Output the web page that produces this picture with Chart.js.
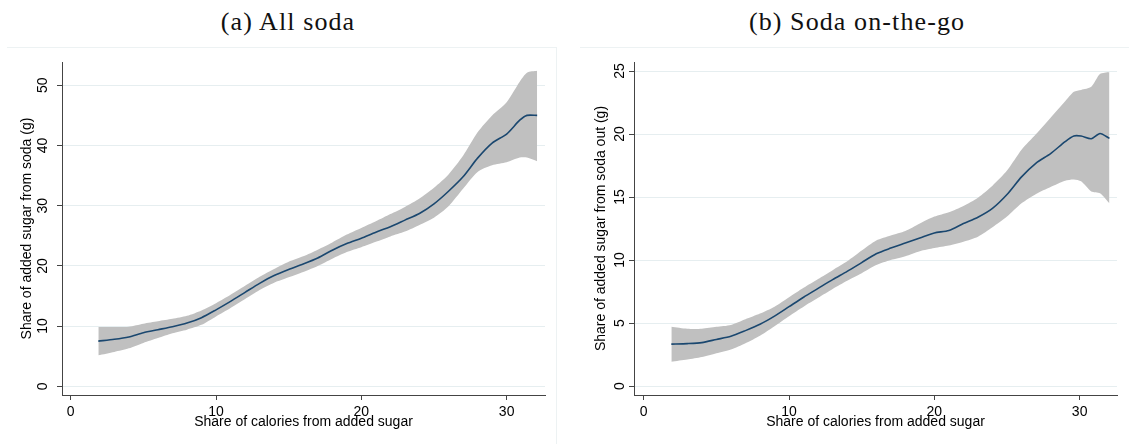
<!DOCTYPE html>
<html>
<head>
<meta charset="utf-8">
<script src="https://cdn.jsdelivr.net/npm/chart.js@4.4.1/dist/chart.umd.min.js"></script>
<style>
  body { margin: 0; background: #fff; }
  #page { position: relative; width: 1129px; height: 444px; overflow: hidden; background: #fff; }
  .panel-title { position: absolute; top: 7px; font-family: "Liberation Serif", serif; font-size: 26px;
                 letter-spacing: 1.1px; white-space: nowrap; color: #111; transform: translateX(-50%); }
  .frame { position: absolute; border-top: 1px solid #edf2f3; }
  canvas { position: absolute; top: 40px; }
</style>
</head>
<body>
<div id="page">
  <div class="frame" style="left:7px; top:47px; width:549px; height:400px; border-right:1px solid #edf2f3;"></div>
  <div class="frame" style="left:580px; top:47px; width:549px; height:400px;"></div>
  <div class="panel-title" style="left:288px;">(a) All soda</div>
  <div class="panel-title" style="left:857px;">(b) Soda on-the-go</div>
  <canvas id="chartA" width="560" height="404" style="left:0px; width:560px; height:404px;"></canvas>
  <canvas id="chartB" width="569" height="404" style="left:560px; width:569px; height:404px;"></canvas>
</div>
<script>
// share of calories from added sugar (x) and local fit with 95% band
const xsA  = [1.9, 3, 4, 5, 6, 7, 8, 9, 10, 11, 12, 13, 14, 15, 16, 17, 18, 19, 20, 21, 22, 23, 24, 25, 26, 27, 28, 29, 30, 30.9, 31.4, 32.1];
const fitA = [7.5, 7.8, 8.2, 8.9, 9.4, 9.9, 10.5, 11.4, 12.7, 14.1, 15.6, 17.1, 18.4, 19.4, 20.3, 21.3, 22.6, 23.7, 24.6, 25.6, 26.5, 27.6, 28.7, 30.3, 32.4, 34.8, 37.9, 40.4, 41.9, 44.2, 45.0, 45.0];
const hiA  = [9.85, 9.85, 9.9, 10.4, 10.8, 11.2, 11.7, 12.6, 13.8, 15.2, 16.7, 18.2, 19.5, 20.7, 21.6, 22.7, 23.9, 25.2, 26.3, 27.4, 28.6, 29.8, 31.2, 33.0, 35.2, 38.3, 42.2, 45.0, 47.2, 50.6, 52.1, 52.4];
const loA  = [5.15, 5.7, 6.3, 7.2, 8.0, 8.8, 9.4, 10.2, 11.6, 13.0, 14.5, 16.0, 17.2, 18.1, 19.0, 20.0, 21.2, 22.3, 23.1, 24.0, 24.9, 25.7, 26.8, 28.0, 29.9, 32.8, 35.6, 36.7, 37.2, 38.0, 38.0, 37.4];

const xsB  = [1.9, 3, 4, 5, 6, 7, 8, 9, 10, 11, 12, 13, 14, 15, 16, 17, 18, 19, 20, 21, 22, 23, 24, 25, 26, 27, 28, 29, 29.6, 30.1, 30.8, 31.4, 32.05];
const fitB = [3.33, 3.37, 3.45, 3.7, 3.95, 4.4, 4.9, 5.55, 6.3, 7.05, 7.75, 8.45, 9.1, 9.8, 10.5, 10.95, 11.35, 11.75, 12.15, 12.35, 12.9, 13.4, 14.1, 15.2, 16.6, 17.7, 18.45, 19.4, 19.85, 19.84, 19.63, 20.05, 19.66];
const hiB  = [4.71, 4.55, 4.55, 4.7, 4.85, 5.3, 5.75, 6.3, 7.05, 7.8, 8.5, 9.2, 9.9, 10.75, 11.55, 11.95, 12.3, 12.9, 13.45, 13.8, 14.3, 14.95, 15.9, 17.1, 18.75, 20.0, 21.3, 22.6, 23.35, 23.5, 23.75, 24.76, 24.92];
const loB  = [1.93, 2.1, 2.3, 2.6, 2.9, 3.4, 4.0, 4.75, 5.55, 6.3, 7.0, 7.7, 8.35, 8.95, 9.6, 10.0, 10.3, 10.7, 10.95, 11.15, 11.45, 11.85, 12.6, 13.45, 14.5, 15.25, 15.8, 16.3, 16.4, 16.25, 15.45, 15.3, 14.5];

const xTicks  = [0, 10, 20, 30];
const yTicksA = [0, 10, 20, 30, 40, 50];
const yTicksB = [0, 5, 10, 15, 20, 25];

const xTitle  = "Share of calories from added sugar";
const yTitleA = "Share of added sugar from soda (g)";
const yTitleB = "Share of added sugar from soda out (g)";

const NAVY = "#1a476f";
const BAND = "#c0c0c0";
const GRID = "#e6eef0";
const AXIS = "#444";
const FONT = "'Liberation Sans', Arial, sans-serif";
const TEXT = "#000";

const pts = (xs, ys) => xs.map((x, i) => ({ x: x, y: ys[i] }));

function drawPanel(id, xs, fit, lo, hi, yTicks, yMin, yMax, xMin, xMax, yTitle, g) {
  new Chart(document.getElementById(id), {
    type: "line",
    data: {
      datasets: [
        { data: pts(xs, fit), borderColor: NAVY, borderWidth: 1.6, pointRadius: 0, fill: false, tension: 0.25 },
        { data: pts(xs, hi), borderWidth: 0, pointRadius: 0, backgroundColor: BAND, fill: "+1", tension: 0.25 },
        { data: pts(xs, lo), borderWidth: 0, pointRadius: 0, fill: false, tension: 0.25 }
      ]
    },
    options: {
      responsive: false,
      animation: false,
      layout: { padding: { left: g.padLeft, right: g.padRight, top: 22, bottom: 4 } },
      plugins: { legend: { display: false }, tooltip: { enabled: false } },
      scales: {
        x: {
          type: "linear",
          min: xMin, max: xMax,
          afterBuildTicks: s => { s.ticks = xTicks.map(v => ({ value: v })); },
          afterFit: s => { s.height = 45; },
          grid: { drawOnChartArea: false, tickLength: 5, tickColor: AXIS },
          border: { color: AXIS, width: 1 },
          ticks: { color: TEXT, font: { family: FONT, size: 14 }, padding: 4, maxRotation: 0 },
          title: { display: true, text: xTitle, color: TEXT, font: { family: FONT, size: 14 },
                   padding: { top: 0, bottom: 9 } }
        },
        y: {
          type: "linear",
          min: yMin, max: yMax,
          afterBuildTicks: s => { s.ticks = yTicks.map(v => ({ value: v })); },
          afterFit: s => { s.width = g.yWidth; },
          grid: { color: GRID, lineWidth: 1, tickLength: 5, tickColor: AXIS },
          border: { color: AXIS, width: 1 },
          ticks: { color: TEXT, font: { family: FONT, size: 14 }, padding: g.tickPad,
                   minRotation: 90, maxRotation: 90, crossAlign: "center", autoSkip: false },
          title: { display: true, text: yTitle, color: TEXT, font: { family: FONT, size: 14 },
                   padding: { top: 7, bottom: 0 } }
        }
      }
    }
  });
}

drawPanel("chartA", xsA, fitA, loA, hiA, yTicksA, -1.45, 53.87, -0.6, 32.64, yTitleA,
          { padLeft: 12, padRight: 15, yWidth: 50, tickPad: 6 });
drawPanel("chartB", xsB, fitB, loB, hiB, yTicksB, -0.71, 25.72, -0.67, 32.57, yTitleB,
          { padLeft: 26, padRight: 12, yWidth: 48, tickPad: 1 });
</script>
</body>
</html>
